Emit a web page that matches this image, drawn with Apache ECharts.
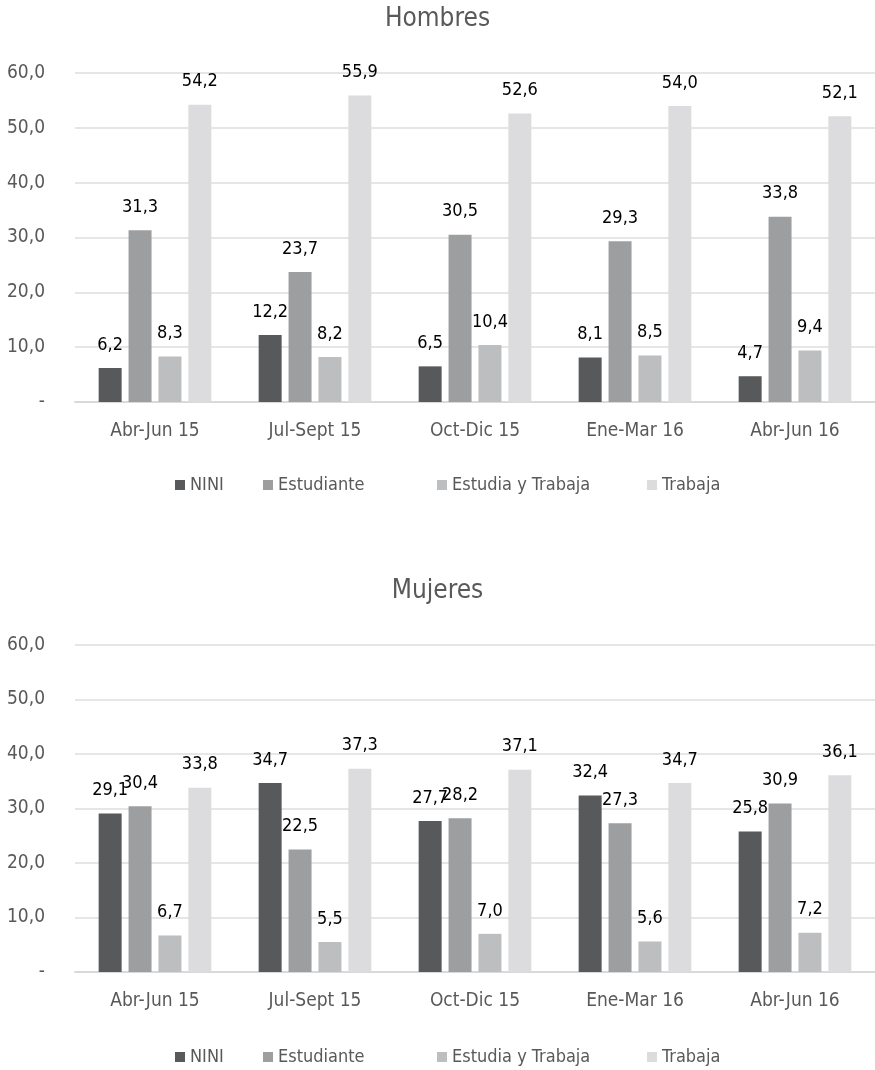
<!DOCTYPE html>
<html>
<head>
<meta charset="utf-8">
<script src="https://cdn.jsdelivr.net/npm/echarts@6/dist/echarts.min.js"></script>
<style>
  html, body { margin: 0; padding: 0; background: #fff; }
  #chart { width: 875px; height: 1070px; }
</style>
</head>
<body>
<div id="chart"></div>
<script>
// Trimestres
const categories = ['Abr-Jun 15', 'Jul-Sept 15', 'Oct-Dic 15', 'Ene-Mar 16', 'Abr-Jun 16'];
const seriesNames = ['NINI', 'Estudiante', 'Estudia y Trabaja', 'Trabaja'];
const yTicks = [0, 10, 20, 30, 40, 50, 60];

// Hombres (%)
const hombresNini = [6.2, 12.2, 6.5, 8.1, 4.7];
const hombresEstudiante = [31.3, 23.7, 30.5, 29.3, 33.8];
const hombresEstudiaTrabaja = [8.3, 8.2, 10.4, 8.5, 9.4];
const hombresTrabaja = [54.2, 55.9, 52.6, 54.0, 52.1];

// Mujeres (%)
const mujeresNini = [29.1, 34.7, 27.7, 32.4, 25.8];
const mujeresEstudiante = [30.4, 22.5, 28.2, 27.3, 30.9];
const mujeresEstudiaTrabaja = [6.7, 5.5, 7.0, 5.6, 7.2];
const mujeresTrabaja = [33.8, 37.3, 37.1, 34.7, 36.1];

const colors = ['#58595b', '#9d9ea0', '#bdbec0', '#dcdcde'];
const FONT = "'Liberation Sans Narrow', 'DejaVu Sans Condensed', sans-serif";
const fmt = v => v.toFixed(1).replace('.', ',');

// left edge of each legend entry
const legendLeft = [175, 263, 437, 647];

const chart = echarts.init(document.getElementById('chart'), null, { renderer: 'canvas' });

function xAxis(gridIndex) {
  return {
    type: 'category', gridIndex, data: categories,
    axisLine: { show: true, lineStyle: { color: '#d9d9d9', width: 2 } },
    axisTick: { show: false },
    axisLabel: { color: '#595959', fontSize: 19, fontFamily: FONT, margin: 20 }
  };
}
function yAxis(gridIndex) {
  return {
    type: 'value', gridIndex, min: yTicks[0], max: yTicks[yTicks.length - 1], interval: 10,
    axisLine: { show: false }, axisTick: { show: false },
    splitLine: { lineStyle: { color: '#e6e6e6', width: 2 } },
    axisLabel: {
      color: '#595959', fontSize: 19, fontFamily: FONT, margin: 30,
      formatter: v => (v === 0 ? '-' : fmt(v))
    }
  };
}
function bars(gridIndex, lists) {
  return lists.map((data, i) => ({
    type: 'bar', name: seriesNames[i], xAxisIndex: gridIndex, yAxisIndex: gridIndex,
    data, barWidth: 23, barGap: '30%',
    itemStyle: { color: colors[i] },
    label: {
      show: true, position: 'top', distance: 14,
      color: '#000', fontSize: 18, fontFamily: FONT,
      formatter: p => fmt(p.value)
    }
  }));
}
function legends(top) {
  return seriesNames.map((name, i) => ({
    top, left: legendLeft[i] - 5, itemWidth: 10, itemHeight: 10,
    icon: 'rect', data: [name], selectedMode: false,
    textStyle: { color: '#595959', fontSize: 18, fontFamily: FONT }
  }));
}
function title(text, top) {
  return { text, left: 'center', top, textStyle: { color: '#595959', fontSize: 26, fontWeight: 'normal', fontFamily: FONT } };
}

chart.setOption({
  animation: false,
  color: colors,
  title: [title('Hombres', 1), title('Mujeres', 573)],
  legend: [...legends(471), ...legends(1043)],
  grid: [
    { left: 75, right: 0, top: 73, height: 329 },
    { left: 75, right: 0, top: 645, height: 327 }
  ],
  xAxis: [xAxis(0), xAxis(1)],
  yAxis: [yAxis(0), yAxis(1)],
  series: [
    ...bars(0, [hombresNini, hombresEstudiante, hombresEstudiaTrabaja, hombresTrabaja]),
    ...bars(1, [mujeresNini, mujeresEstudiante, mujeresEstudiaTrabaja, mujeresTrabaja])
  ]
});
</script>
</body>
</html>
